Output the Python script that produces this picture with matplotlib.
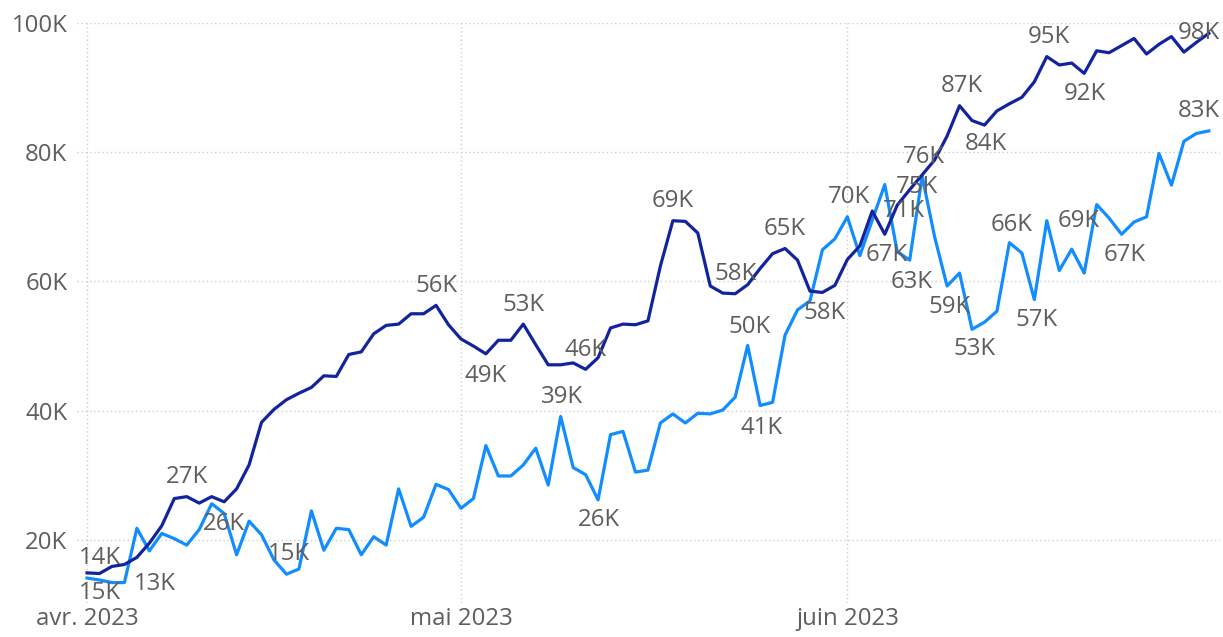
import numpy as np
import pandas as pd
import matplotlib
matplotlib.use('Agg')
import matplotlib.pyplot as plt

plt.rcParams['font.family'] = ['Open Sans', 'DejaVu Sans']

# daily values, 1 April -> 30 June 2023 (thousands)
dates = pd.date_range('2023-04-01', '2023-06-30', freq='D')

series_dark = [
    14.9, 14.8, 15.9, 16.2, 17.3, 19.5, 22.2, 26.4, 26.7, 25.7,
    26.7, 25.9, 27.9, 31.6, 38.2, 40.2, 41.7, 42.7, 43.6, 45.4,
    45.3, 48.7, 49.1, 51.9, 53.2, 53.4, 55.0, 55.0, 56.3, 53.3,
    51.1, 50.0, 48.8, 50.9, 50.9, 53.4, 50.2, 47.1, 47.1, 47.4,
    46.4, 48.2, 52.8, 53.4, 53.3, 53.9, 62.4, 69.4, 69.3, 67.5,
    59.3, 58.2, 58.1, 59.5, 62.0, 64.3, 65.1, 63.3, 58.5, 58.3,
    59.4, 63.4, 65.5, 70.9, 67.3, 71.8, 74.2, 76.5, 78.8, 82.5,
    87.2, 84.9, 84.2, 86.4, 87.5, 88.5, 90.9, 94.8, 93.5, 93.8,
    92.2, 95.7, 95.4, 96.5, 97.6, 95.2, 96.7, 97.9, 95.5, 97.0,
    98.4,
]

series_light = [
    14.1, 13.8, 13.4, 13.4, 21.8, 18.3, 21.0, 20.2, 19.2, 21.6,
    25.6, 24.1, 17.7, 22.9, 20.8, 16.9, 14.7, 15.5, 24.5, 18.4,
    21.8, 21.6, 17.7, 20.5, 19.2, 27.9, 22.1, 23.5, 28.6, 27.8,
    24.9, 26.4, 34.6, 29.9, 29.9, 31.6, 34.2, 28.5, 39.1, 31.2,
    30.1, 26.2, 36.3, 36.8, 30.5, 30.8, 38.1, 39.5, 38.1, 39.6,
    39.5, 40.1, 42.1, 50.1, 40.8, 41.3, 51.7, 55.6, 57.0, 64.9,
    66.6, 70.0, 64.0, 69.5, 75.0, 64.6, 63.3, 76.3, 66.9, 59.3,
    61.3, 52.6, 53.7, 55.4, 66.0, 64.4, 57.2, 69.4, 61.7, 65.0,
    61.3, 71.9, 69.8, 67.3, 69.2, 70.0, 79.8, 74.9, 81.7, 82.9,
    83.3,
]

month_ticks = ['2023-04-01', '2023-05-01', '2023-06-01']
month_labels = ['avr. 2023', 'mai 2023', 'juin 2023']
y_ticks = [20000, 40000, 60000, 80000, 100000]
y_labels = ['20K', '40K', '60K', '80K', '100K']

# which points carry a data label, and where the label sits (pixels, +dy = below)
dark_labels = [(0, 13, 20), (8, 0, -20), (28, 0, -19), (32, 0, 22), (35, 0, -19),
               (40, 0, -19), (47, 0, -20), (52, 0, -20), (56, 0, -20), (59, 2, 21),
               (63, 32, 0), (64, 2, 21), (70, 2, -20), (72, 1, 19), (77, 2, -20),
               (80, 1, 21), (90, -10, 0)]
light_labels = [(0, 13, -20), (3, 30, 1), (10, 12, 20), (16, 2, -20), (38, 1, -20),
                (41, 1, 20), (53, 2, -18), (54, 1, 22), (61, 2, -20), (64, 32, 2),
                (66, 2, 22), (67, 2, -19), (69, 2, 21), (71, 2, 20), (74, 2, -18),
                (76, 2, 20), (77, 32, 0), (83, 3, 21), (90, -10, -20)]

DARK = '#12239E'
LIGHT = '#118DFF'
TEXT = '#605E5C'
FS = 17.3

dark = np.array(series_dark) * 1000
light = np.array(series_light) * 1000

fig = plt.figure(figsize=(12.23, 6.37), dpi=100)
ax = fig.add_axes([0.063, 0.054, 0.9346, 0.9099])

ax.plot(dates, light, color=LIGHT, linewidth=2.3, zorder=3)
ax.plot(dates, dark, color=DARK, linewidth=2.3, zorder=4)

for vals, spec in ((dark, dark_labels), (light, light_labels)):
    for i, dx, dy in spec:
        ax.annotate(f'{round(vals[i] / 1000)}K', (dates[i], vals[i]),
                    xytext=(dx, -dy), textcoords='offset pixels',
                    ha='center', va='center', fontsize=FS, color=TEXT, zorder=5)

ax.set_ylim(10300, 100000)
ax.set_xlim(dates[0] - pd.Timedelta(days=0.8), dates[0] + pd.Timedelta(days=90.9))

ax.set_yticks(y_ticks)
ax.set_yticklabels(y_labels)
ax.set_xticks(pd.to_datetime(month_ticks))
ax.set_xticklabels(month_labels)

ax.tick_params(axis='both', length=0, labelsize=FS, labelcolor=TEXT)
ax.tick_params(axis='x', pad=3)
ax.tick_params(axis='y', pad=7)

ax.grid(True, color='#CDCDCD', linestyle=(0, (1, 2)), linewidth=1)
ax.set_axisbelow(True)
for s in ax.spines.values():
    s.set_visible(False)

fig.savefig('out.png', dpi=100)
